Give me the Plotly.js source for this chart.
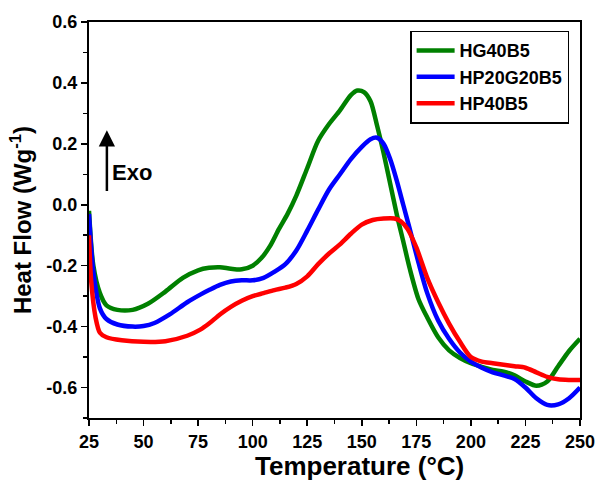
<!DOCTYPE html>
<html>
<head>
<meta charset="utf-8">
<script src="https://cdn.plot.ly/plotly-3.0.1.min.js"></script>
<style>html,body{margin:0;padding:0;background:#fff}#chart{width:599px;height:484px}</style>
</head>
<body>
<div id="chart"></div>
<script>
const seriesNames = ["HG40B5", "HP20G20B5", "HP40B5"];
const greenX = [25,27,30,33,38,45,52,60,68,75,80,85,90,95,100,104,108,112,116,120,125,130,135,140,145,148,151,154,157,160,163,166,169,172,176,180,185,190,195,200,205,210,215,220,225,230,235,240,245,250];
const greenY = [-0.02,-0.2,-0.29,-0.33,-0.345,-0.345,-0.325,-0.285,-0.24,-0.215,-0.207,-0.205,-0.21,-0.212,-0.2,-0.175,-0.135,-0.08,-0.03,0.03,0.12,0.21,0.265,0.31,0.36,0.375,0.37,0.34,0.26,0.17,0.07,-0.03,-0.12,-0.21,-0.31,-0.37,-0.435,-0.478,-0.503,-0.52,-0.532,-0.542,-0.548,-0.56,-0.58,-0.594,-0.58,-0.53,-0.48,-0.44];
const blueX = [25,27,30,33,38,45,50,55,62,70,76,80,85,90,95,100,105,110,115,120,125,130,135,140,145,150,154,157,160,163,166,169,172,176,180,185,190,195,200,205,210,215,220,225,230,235,240,245,250];
const blueY = [-0.03,-0.22,-0.34,-0.375,-0.393,-0.4,-0.398,-0.388,-0.36,-0.32,-0.295,-0.28,-0.263,-0.252,-0.248,-0.248,-0.24,-0.22,-0.195,-0.15,-0.085,-0.016,0.05,0.1,0.15,0.19,0.215,0.22,0.2,0.15,0.08,0.0,-0.08,-0.19,-0.29,-0.38,-0.44,-0.485,-0.515,-0.535,-0.55,-0.56,-0.572,-0.6,-0.635,-0.657,-0.655,-0.635,-0.6];
const redX = [25,26,28,30,33,40,50,60,70,76,80,85,90,95,100,105,110,115,120,125,130,135,140,145,150,155,160,165,168,171,175,180,185,190,195,200,205,210,215,220,225,230,235,240,245,250];
const redY = [-0.1,-0.25,-0.37,-0.42,-0.435,-0.445,-0.45,-0.448,-0.43,-0.41,-0.39,-0.36,-0.335,-0.315,-0.3,-0.29,-0.28,-0.272,-0.26,-0.235,-0.195,-0.16,-0.13,-0.095,-0.065,-0.05,-0.045,-0.045,-0.055,-0.08,-0.14,-0.24,-0.32,-0.39,-0.45,-0.5,-0.515,-0.52,-0.525,-0.53,-0.535,-0.55,-0.565,-0.573,-0.575,-0.575];
const xTicks = [25,50,75,100,125,150,175,200,225,250];
const yTicks = [-0.6,-0.4,-0.2,0.0,0.2,0.4,0.6];
const yTickLabels = ["-0.6","-0.4","-0.2","0.0","0.2","0.4","0.6"];

const colors = ["#008000", "#0000ff", "#ff0000"];
const xs = [greenX, blueX, redX];
const ys = [greenY, blueY, redY];
const traces = seriesNames.map((n, i) => ({
  x: xs[i], y: ys[i], name: n, type: 'scatter', mode: 'lines',
  line: {color: colors[i], width: 4.5, shape: 'spline', smoothing: 0.8}
}));

const font = {family: 'Liberation Sans, Arial, sans-serif', color: '#000'};
const axisCommon = {
  showline: true, linecolor: '#000', linewidth: 2, mirror: true,
  ticks: 'outside', ticklen: 6, tickwidth: 1.5, tickcolor: '#000',
  showgrid: false, zeroline: false,
  tickfont: Object.assign({size: 18, weight: 'bold'}, font)
};

const layout = {
  width: 599, height: 484,
  margin: {l: 89, r: 19, t: 22, b: 66},
  paper_bgcolor: '#fff', plot_bgcolor: '#fff',
  showlegend: true,
  legend: {x: 0.654, y: 0.978, xanchor: 'left', yanchor: 'top',
    bordercolor: '#000', borderwidth: 1.5, bgcolor: 'rgba(255,255,255,0)',
    font: Object.assign({size: 18, weight: 'bold'}, font), tracegroupgap: 0,
    itemwidth: 38},
  xaxis: Object.assign({}, axisCommon, {
    range: [25, 250], tickvals: xTicks, ticktext: xTicks.map(String),
    minor: {ticks: 'outside', ticklen: 4, tickwidth: 1.5, tickcolor: '#000', dtick: 12.5, tick0: 25}
  }),
  yaxis: Object.assign({}, axisCommon, {
    range: [-0.7, 0.6], tickvals: yTicks, ticktext: yTickLabels,
    minor: {ticks: 'outside', ticklen: 4, tickwidth: 1.5, tickcolor: '#000', dtick: 0.1, tick0: 0},
    title: {text: 'Heat Flow (Wg<sup>-1</sup>)', font: Object.assign({size: 24, weight: 'bold'}, font), standoff: 8}
  }),
  annotations: [
    {x: 0.55, y: -0.121, xref: 'paper', yref: 'paper', xanchor: 'center', yanchor: 'middle',
     showarrow: false, text: 'Temperature (°C)', font: Object.assign({size: 26, weight: 'bold'}, font)},
    {x: 33.2, y: 0.245, xref: 'x', yref: 'y', ax: 33.2, ay: 0.04, axref: 'x', ayref: 'y',
     showarrow: true, arrowhead: 2, arrowsize: 1.3, arrowwidth: 2.5, arrowcolor: '#000', text: ''},
    {x: 34.4, y: 0.105, xref: 'x', yref: 'y', xanchor: 'left', yanchor: 'middle', showarrow: false,
     text: 'Exo', font: Object.assign({size: 22, weight: 'bold'}, font)}
  ]
};

Plotly.newPlot('chart', traces, layout, {displayModeBar: false, staticPlot: true});
</script>
</body>
</html>
